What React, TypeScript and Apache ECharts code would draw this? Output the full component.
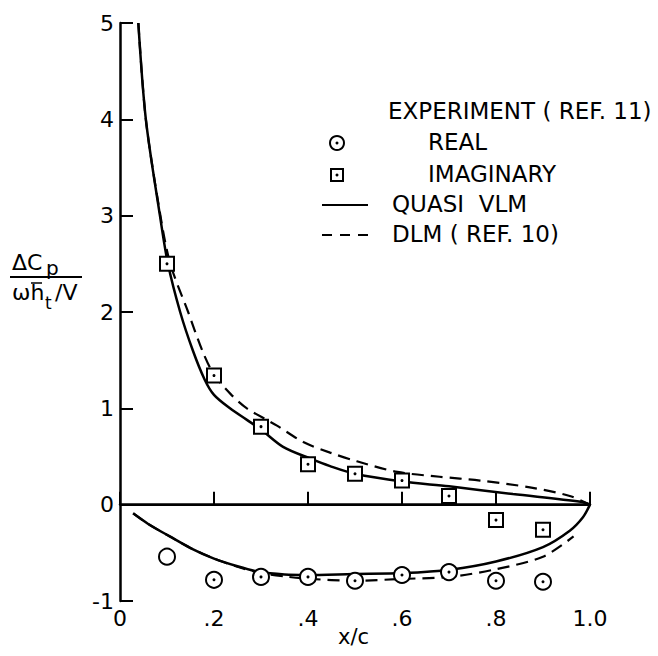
import React, { useEffect, useRef } from 'react';
import * as echarts from 'echarts';

const xTickValues = [0, 0.2, 0.4, 0.6, 0.8, 1.0];
const xTickLabels = ['0', '.2', '.4', '.6', '.8', '1.0'];
const yTickValues = [-1, 0, 1, 2, 3, 4, 5];
const yTickLabels = ['-1', '0', '1', '2', '3', '4', '5'];

// Experiment (Ref. 11)
const expX = [0.1, 0.2, 0.3, 0.4, 0.5, 0.6, 0.7, 0.8, 0.9];
const expReal = [-0.54, -0.78, -0.75, -0.75, -0.79, -0.73, -0.7, -0.79, -0.8];
const expRealDot = [false, true, true, true, true, true, true, true, true];
const expImag = [2.5, 1.34, 0.81, 0.42, 0.32, 0.25, 0.09, -0.16, -0.26];

// Quasi VLM, imaginary part
const vlmImagX = [0.039, 0.055, 0.085, 0.102, 0.128, 0.155, 0.18, 0.2, 0.234, 0.27, 0.3, 0.347, 0.404, 0.447, 0.5, 0.6, 0.7, 0.836, 0.98, 1.0];
const vlmImagY = [5.0, 4.0, 3.0, 2.5, 2.0, 1.6, 1.3, 1.14, 1.0, 0.88, 0.78, 0.6, 0.48, 0.4, 0.32, 0.24, 0.19, 0.11, 0.03, 0.0];
// DLM (Ref. 10), imaginary part
const dlmImagX = [0.039, 0.055, 0.086, 0.107, 0.145, 0.175, 0.2, 0.235, 0.27, 0.334, 0.39, 0.447, 0.504, 0.59, 0.68, 0.766, 0.872, 0.957, 1.0];
const dlmImagY = [5.0, 4.0, 3.0, 2.5, 2.0, 1.6, 1.35, 1.15, 1.0, 0.82, 0.65, 0.54, 0.45, 0.34, 0.29, 0.25, 0.18, 0.09, 0.0];
// Quasi VLM, real part
const vlmRealX = [0.028, 0.06, 0.106, 0.15, 0.2, 0.25, 0.298, 0.35, 0.397, 0.496, 0.603, 0.702, 0.8, 0.9, 0.957, 0.985, 1.0];
const vlmRealY = [-0.09, -0.2, -0.33, -0.45, -0.56, -0.64, -0.7, -0.725, -0.73, -0.72, -0.71, -0.675, -0.59, -0.44, -0.27, -0.13, 0.0];
// DLM (Ref. 10), real part
const dlmRealX = [0.028, 0.06, 0.106, 0.15, 0.2, 0.25, 0.3, 0.35, 0.404, 0.496, 0.603, 0.702, 0.8, 0.9, 0.965];
const dlmRealY = [-0.09, -0.2, -0.33, -0.45, -0.56, -0.645, -0.71, -0.745, -0.77, -0.79, -0.77, -0.75, -0.67, -0.54, -0.33];

const FONT = '"DejaVu Sans", sans-serif';

function pairs(xs: number[], ys: number[]) {
  return xs.map((x, i) => [x, ys[i]]);
}

export default function App() {
  const ref = useRef<HTMLDivElement>(null);
  useEffect(() => {
    if (!ref.current) return;
    const chart = echarts.init(ref.current, null, { renderer: 'svg' });
    const lineCommon = {
      type: 'line',
      showSymbol: false,
      symbol: 'none',
      smooth: 0.3,
      z: 3,
    };
    const txt = (text: string, left: number, top: number, size: number) => ({
      type: 'text',
      left,
      top,
      style: { text, fontSize: size, fontFamily: FONT, fill: '#000' },
    });
    const option: any = {
      animation: false,
      backgroundColor: '#fff',
      grid: { left: 120, right: 68, top: 23, bottom: 55 },
      xAxis: {
        type: 'value',
        min: 0,
        max: 1,
        interval: 0.2,
        axisLine: { lineStyle: { color: '#000', width: 2.5 } },
        axisTick: { inside: true, length: 13, lineStyle: { color: '#000', width: 2 } },
        axisLabel: {
          margin: 6,
          color: '#000',
          fontSize: 22,
          fontFamily: FONT,
          formatter: (v: number) => {
            const i = xTickValues.findIndex((t) => Math.abs(t - v) < 1e-6);
            return i >= 0 ? xTickLabels[i] : '';
          },
        },
        splitLine: { show: false },
      },
      yAxis: {
        type: 'value',
        min: -1,
        max: 5,
        interval: 1,
        axisLine: { lineStyle: { color: '#000', width: 2.5 } },
        axisTick: { inside: true, length: 13, lineStyle: { color: '#000', width: 2 } },
        axisLabel: {
          margin: 6,
          color: '#000',
          fontSize: 22,
          fontFamily: FONT,
          formatter: (v: number) => {
            const i = yTickValues.findIndex((t) => Math.abs(t - v) < 1e-6);
            return i >= 0 ? yTickLabels[i] : '';
          },
        },
        splitLine: { show: false },
      },
      series: [
        {
          ...lineCommon,
          name: 'QUASI VLM imag',
          data: pairs(vlmImagX, vlmImagY),
          lineStyle: { color: '#000', width: 2.5 },
          markLine: {
            silent: true,
            symbol: 'none',
            label: { show: false },
            lineStyle: { color: '#000', width: 2, type: 'solid' },
            data: [{ yAxis: 0 }],
          },
        },
        {
          ...lineCommon,
          name: 'DLM imag',
          data: pairs(dlmImagX, dlmImagY),
          lineStyle: { color: '#000', width: 2.2, type: [12, 7] },
        },
        {
          ...lineCommon,
          name: 'QUASI VLM real',
          data: pairs(vlmRealX, vlmRealY),
          lineStyle: { color: '#000', width: 2.5 },
        },
        {
          ...lineCommon,
          name: 'DLM real',
          data: pairs(dlmRealX, dlmRealY),
          lineStyle: { color: '#000', width: 2.2, type: [12, 7] },
        },
        {
          type: 'scatter',
          name: 'REAL',
          symbol: 'circle',
          symbolSize: 16,
          data: pairs(expX, expReal),
          itemStyle: { color: '#fff', borderColor: '#000', borderWidth: 2, opacity: 1 },
          z: 4,
        },
        {
          type: 'scatter',
          name: 'REAL dot',
          symbol: 'circle',
          symbolSize: 3,
          data: pairs(expX, expReal).filter((_, i) => expRealDot[i]),
          itemStyle: { color: '#000', opacity: 1 },
          z: 5,
        },
        {
          type: 'scatter',
          name: 'IMAGINARY',
          symbol: 'rect',
          symbolSize: 14,
          data: pairs(expX, expImag),
          itemStyle: { color: '#fff', borderColor: '#000', borderWidth: 2, opacity: 1 },
          z: 4,
        },
        {
          type: 'scatter',
          name: 'IMAGINARY dot',
          symbol: 'circle',
          symbolSize: 3,
          data: pairs(expX, expImag),
          itemStyle: { color: '#000', opacity: 1 },
          z: 5,
        },
      ],
      graphic: [
        // y-axis title (fraction)
        txt('ΔC', 12, 251, 22),
        txt('p', 46, 258, 20),
        { type: 'line', shape: { x1: 10, y1: 277, x2: 82, y2: 277 }, style: { stroke: '#000', lineWidth: 2 } },
        txt('ωh', 12, 281, 22),
        { type: 'line', shape: { x1: 31, y1: 283, x2: 42, y2: 283 }, style: { stroke: '#000', lineWidth: 1.5 } },
        txt('t', 45, 294, 17),
        txt('/V', 55, 281, 22),
        // x-axis title
        txt('x/c', 338, 626, 21),
        // legend
        txt('EXPERIMENT ( REF. 11)', 388, 99, 23),
        { type: 'circle', shape: { cx: 337, cy: 143, r: 7 }, style: { fill: '#fff', stroke: '#000', lineWidth: 2 } },
        { type: 'circle', shape: { cx: 337, cy: 143, r: 1.5 }, style: { fill: '#000' } },
        txt('REAL', 428, 130, 23),
        { type: 'rect', shape: { x: 331, y: 169, width: 12, height: 12 }, style: { fill: '#fff', stroke: '#000', lineWidth: 2 } },
        { type: 'circle', shape: { cx: 337, cy: 175, r: 1.5 }, style: { fill: '#000' } },
        txt('IMAGINARY', 428, 162, 23),
        { type: 'line', shape: { x1: 322, y1: 205, x2: 368, y2: 205 }, style: { stroke: '#000', lineWidth: 2.2 } },
        txt('QUASI\u00a0\u00a0VLM', 392, 192, 23),
        { type: 'line', shape: { x1: 322, y1: 235, x2: 368, y2: 235 }, style: { stroke: '#000', lineWidth: 2.2, lineDash: [10, 8] } },
        txt('DLM ( REF. 10)', 392, 222, 23),
      ],
    };
    chart.setOption(option);
    return () => chart.dispose();
  }, []);
  return <div ref={ref} style={{ position: 'fixed', left: 0, top: 0, width: 658, height: 656 }} />;
}
